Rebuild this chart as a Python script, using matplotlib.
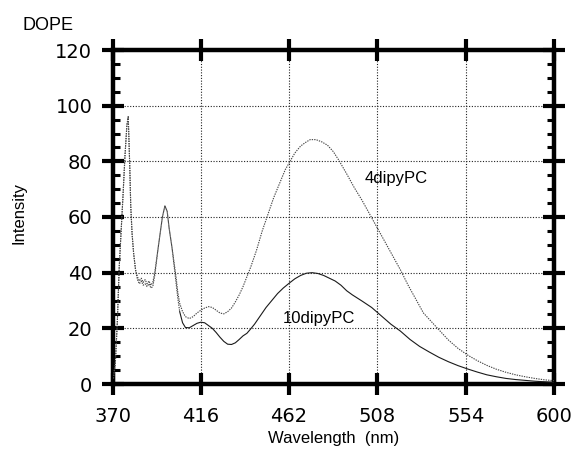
import matplotlib
matplotlib.use("Agg")
import matplotlib.pyplot as plt
from matplotlib.ticker import MultipleLocator, FixedLocator

# ---- data ----
wl_4 = [370.5, 371.5, 372.5, 373.5, 374.5, 375.5, 376.5, 377.5, 378.2, 379.0, 379.5, 380.2,
        381, 382, 383, 384, 385, 386, 387, 388, 389, 390, 391, 392, 393, 394, 395, 396,
        397.3, 398.5, 399.5, 401, 402, 403, 404, 405, 406.5, 408, 410, 412, 414, 416, 418,
        420, 422, 424, 426, 428, 430, 432, 434, 436, 438, 440, 442, 445, 448, 451, 454,
        457, 460, 462.5, 465, 468, 471, 473, 476, 479, 482, 485, 488, 492, 496, 500, 504,
        508, 512, 516, 520, 524, 528, 532, 536, 540, 545, 550, 555, 560, 565, 570, 575,
        580, 585, 590, 595, 600]
int_4 = [2, 8, 22, 42, 55, 68, 82, 93, 96, 78, 64, 54,
         47, 41, 38.5, 37, 38, 36.5, 37.5, 36, 37, 35.5, 36.5, 40, 45, 50, 55, 60,
         64, 62, 56, 49, 44, 39, 33, 29, 26, 24.2, 23.5, 24.2, 25.5, 26.5, 27.3,
         27.8, 27.5, 26.5, 25.5, 25.2, 26, 27.3, 29.5, 32, 35, 38.5, 42, 48, 55, 61, 67,
         72, 77, 80, 83, 85.5, 87, 87.8, 87.8, 87, 85.8, 83.5, 80.3, 75.5, 70.5, 66, 61,
         56, 51, 46, 41, 35.5, 30.5, 25.5, 22.5, 19.5, 15.8, 12.8, 10.4, 8.4, 6.7, 5.3, 4.2,
         3.3, 2.6, 2.0, 1.5, 1.2]

wl_10 = [370.5, 371.5, 372.5, 373.5, 374.5, 375.5, 376.5, 377.5, 378.2, 379.0, 379.5, 380.2,
         381, 382, 383, 384, 385, 386, 387, 388, 389, 390, 391, 392, 393, 394, 395, 396,
         397.3, 398.5, 399.5, 401, 402, 403, 404, 405, 406.5, 408, 410, 412, 414, 416, 418,
         420, 422, 424, 426, 428, 430, 432, 434, 436, 438, 440, 442, 444, 447, 450, 453,
         456, 459, 462, 465, 468, 471, 474, 477, 480, 483, 486, 489, 492, 495, 500, 505,
         510, 515, 520, 525, 530, 535, 540, 545, 550, 555, 560, 565, 570, 575, 580, 585,
         590, 595, 600]
int_10 = [2, 8, 22, 42, 55, 68, 82, 93, 96, 78, 64, 54,
          47, 41, 37.5, 36, 37, 35.5, 36, 35, 36, 34.5, 35, 39, 44.5, 50, 55, 60,
          64, 62, 56, 49, 43, 37, 31, 26, 22, 20.3, 20.2, 21, 21.8, 22.2, 22,
          21, 20, 18.5, 16.8, 15.3, 14.3, 14.2, 14.8, 16, 17.3, 18.2, 19.8, 21.5, 24.5, 27.5, 30,
          32.5, 34.5, 36.2, 37.8, 39, 39.8, 40, 39.7, 39, 38, 37, 35.5, 33.5, 32, 29.8, 27.5,
          24.5, 21.5, 19, 16, 13.5, 11.5, 9.6, 8, 6.6, 5.4, 4.3, 3.3, 2.6, 2, 1.6, 1.3,
          1, 0.8, 0.6]

x_ticks = [370, 416, 462, 508, 554, 600]
y_ticks = [0, 20, 40, 60, 80, 100, 120]
series_labels = ["4dipyPC", "10dipyPC"]
panel_title = "DOPE"

# ---- figure ----
W, H = 580, 453
fig = plt.figure(figsize=(W / 100, H / 100), dpi=100)
ax = fig.add_axes([112.5 / W, 1 - 384 / H, (554 - 112.5) / W, (384 - 50) / H])

dot = (0, (1.2, 1.0))
ax.plot(wl_4, int_4, color="#444444", lw=0.8, ls=dot, zorder=3)
split = wl_10.index(405)
ax.plot(wl_10[:split + 1], int_10[:split + 1], color="#444444", lw=0.8, ls=dot, zorder=3)
ax.plot(wl_10[split:], int_10[split:], color="#1a1a1a", lw=0.8, zorder=3)

ax.set_xlim(370, 600)
ax.set_ylim(0, 120)
ax.xaxis.set_major_locator(FixedLocator(x_ticks))
ax.yaxis.set_major_locator(FixedLocator(y_ticks))
ax.yaxis.set_minor_locator(MultipleLocator(5))

ax.grid(True, which="major", color="#222222", lw=0.8, ls=(0, (1, 1.5)))
ax.set_axisbelow(True)

for s in ax.spines.values():
    s.set_linewidth(3.2)
    s.set_color("black")

ax.tick_params(which="major", direction="inout", length=16, width=3,
               top=True, right=True, labelsize=14, color="black")
ax.tick_params(axis="x", which="major", pad=8.5)
ax.tick_params(axis="y", which="major", pad=6.5)
ax.tick_params(axis="y", which="minor", direction="in", length=5, width=2.2,
               left=True, right=True)
ax.tick_params(axis="x", which="minor", bottom=False, top=False)
for lab in ax.get_xticklabels() + ax.get_yticklabels():
    lab.set_fontfamily("DejaVu Sans")

ax.set_xlabel("Wavelength  (nm)", fontsize=12, family="Liberation Sans")
ax.xaxis.set_label_coords((334 - 112.5) / 441.5, -(431 - 384) / 334)
ax.set_ylabel("Intensity", fontsize=12, family="Liberation Sans")
ax.yaxis.set_label_coords((27 - 112.5) / 441.5, (384 - 213) / 334)

ax.text(501.5, 72.2, series_labels[0], fontsize=12, family="Liberation Sans",
        ha="left", va="baseline")
ax.text(458.8, 21.9, series_labels[1], fontsize=12, family="Liberation Sans",
        ha="left", va="baseline")

fig.text(23 / W, 1 - 30 / H, panel_title, fontsize=13, family="Liberation Sans",
         ha="left", va="baseline")

fig.savefig("out.png", dpi=100)
